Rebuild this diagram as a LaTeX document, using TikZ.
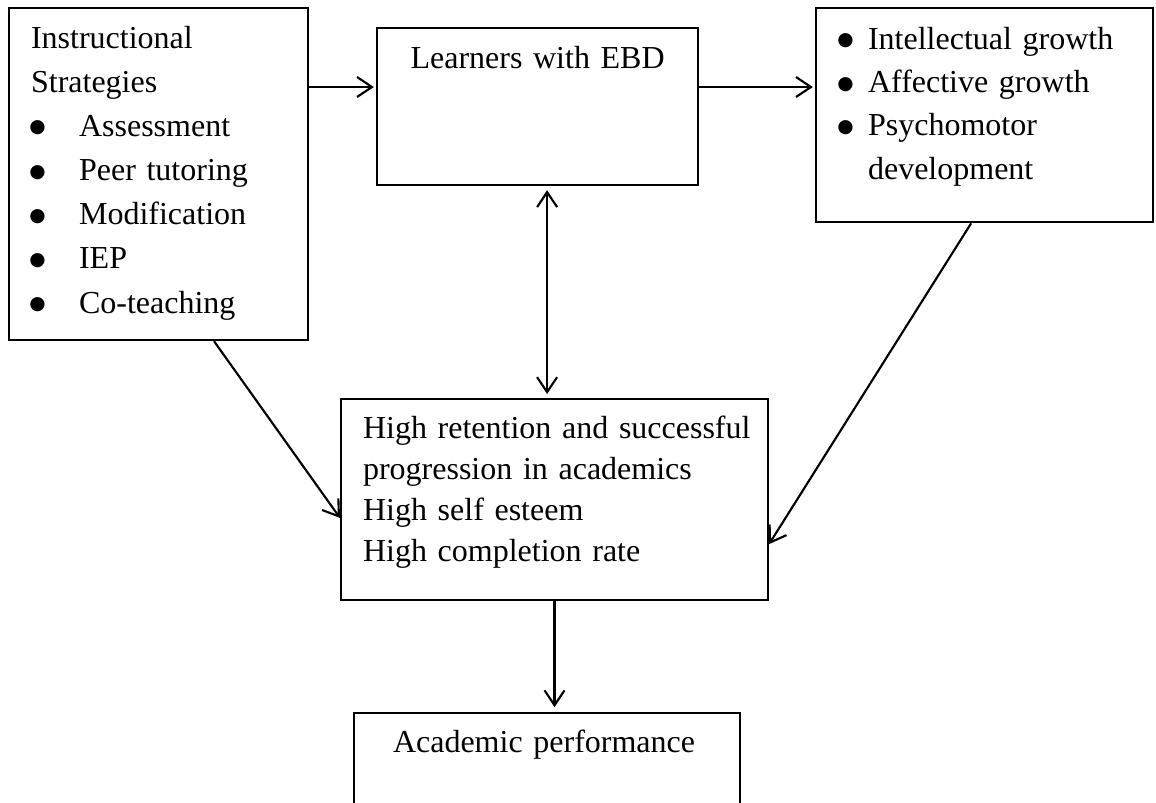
\documentclass[tikz,border=0pt]{standalone}
\usepackage{fontspec}
\setmainfont{Liberation Serif}
\newfontfamily\symfont{DejaVu Sans}
\usetikzlibrary{arrows.meta}
\tikzset{%
  >={Straight Barb[length=5.6pt,width=7.5pt]}, % default arrow style
  box/.style={draw,line width=0.8pt,anchor=north west,inner ysep=0pt,align=left},%
  arr/.style={->,line width=0.8pt},%
  dblarr/.style={<->,line width=0.8pt,shorten <=1.5pt,shorten >=1.5pt}%
}
% bullet item, bullet box of width #1
\newcommand{\itm}[2][18pt]{\makebox[#1][l]{\hspace*{-0.6pt}\raisebox{1.3pt}{\fontsize{7pt}{7pt}\symfont ●}}#2}

\begin{document}
\begin{tikzpicture}[x=0.375pt,y=-0.375pt]
  \useasboundingbox (0,0) rectangle (1156,802);
  \clip (0,0) rectangle (1156,802);
  % boxes
  \node[box,inner xsep=8.25pt,text width=95.6pt,text height=15pt,text depth=109.5pt,
    font=\fontsize{12pt}{16.56pt}\selectfont] (strat) at (8,7)
    {Instructional\\Strategies\\\itm{Assessment}\\\itm{Peer tutoring}\\
     \itm{Modification}\\\itm{IEP}\\\itm{Co-teaching}};
  \node[box,align=center,inner xsep=3.75pt,text width=112.9pt,text height=15pt,text depth=43.9pt,
    font=\fontsize{12pt}{16pt}\selectfont] (ebd) at (376,27) {Learners with EBD};
  \node[box,inner xsep=8.6pt,text width=109.1pt,text height=15.4pt,text depth=64.9pt,
    font=\fontsize{12pt}{16.25pt}\selectfont] (growth) at (815,7)
    {\itm[10.9pt]{\mbox{Intellectual growth}}\\\itm[10.9pt]{Affective growth}\\
     \itm[10.9pt]{Psychomotor}\\\hspace*{10.9pt}development};
  \node[box,inner xsep=8.25pt,text width=143.6pt,text height=14.6pt,text depth=60.75pt,
    font=\fontsize{12pt}{15.4pt}\selectfont] (outcome) at (340,398)
    {\mbox{High retention and successful}\\progression in academics\\High self esteem\\High completion rate};
  \node[box,inner xsep=14.6pt,text width=115.5pt,text height=14.6pt,text depth=34pt,
    font=\fontsize{12pt}{15.4pt}\selectfont] (perf) at (353,712) {\mbox{Academic performance}};
  % connectors
  \draw[arr,shorten >=0.8pt] ([yshift=-30pt]strat.north east) -- ([yshift=-22.5pt]ebd.north west);
  \draw[arr,shorten >=0.8pt] ([yshift=-22.5pt]ebd.north east) -- ([yshift=-30pt]growth.north west);
  \draw[dblarr] ([xshift=3.56pt]ebd.south) -- ([xshift=3.56pt]ebd.south |- outcome.north);
  \draw[arr] ([xshift=20.8pt]strat.south) -- ([yshift=-6.9pt]outcome.west);
  \draw[arr] ([xshift=-5pt]growth.south) -- ([yshift=-16.7pt]outcome.east);
  \draw[arr,shorten >=1.8pt] (outcome.south) -- (outcome.south |- perf.north);
\end{tikzpicture}
\end{document}
